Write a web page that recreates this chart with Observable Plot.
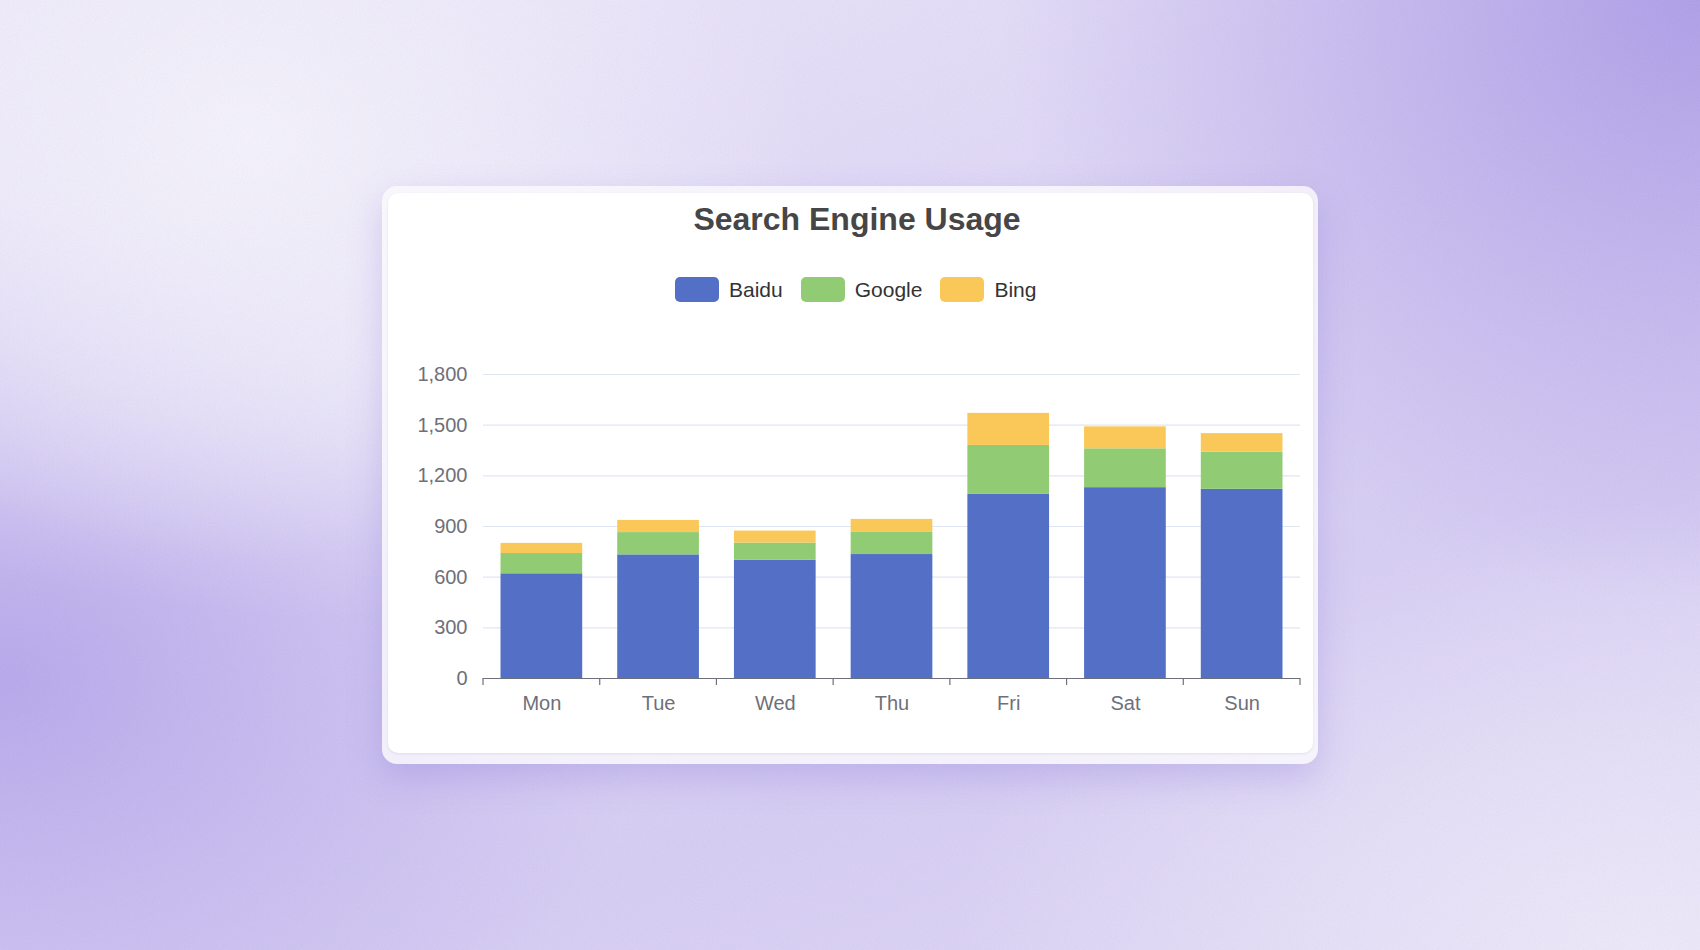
<!DOCTYPE html>
<html>
<head>
<meta charset="utf-8">
<script src="https://cdn.jsdelivr.net/npm/d3@7"></script>
<script src="https://cdn.jsdelivr.net/npm/@observablehq/plot@0.6"></script>
<style>
  html, body { margin: 0; padding: 0; }
  body {
    width: 1700px; height: 950px; position: relative; overflow: hidden;
    font-family: "Liberation Sans", Arial, Helvetica, sans-serif;
    background:
      radial-gradient(ellipse 560px 420px at 250px 140px, rgba(246,244,254,0.95), rgba(246,244,254,0) 100%),
      radial-gradient(ellipse 650px 260px at 380px 360px, rgba(240,236,252,0.6), rgba(240,236,252,0) 100%),
      radial-gradient(ellipse 700px 600px at 1700px 0px, rgba(172,154,232,0.95), rgba(172,154,232,0) 100%),
      radial-gradient(ellipse 650px 480px at 0px 680px, rgba(180,165,236,0.95), rgba(180,165,236,0) 100%),
      radial-gradient(ellipse 700px 450px at 1650px 950px, rgba(238,234,251,0.95), rgba(238,234,251,0) 100%),
      linear-gradient(160deg, #ece7fb 0%, #ddd5f7 45%, #d6cdf5 70%, #e0d9f7 100%);
  }
  #grain { position: absolute; left: 0; top: 0; width: 1700px; height: 950px; opacity: 0.12; pointer-events: none; }
  #cardOuter {
    position: absolute; left: 382px; top: 186px; width: 936px; height: 578px;
    border-radius: 15px; background: rgba(250,249,253,0.82);
    box-shadow: 0 14px 34px rgba(120,100,210,0.25);
  }
  #cardInner {
    position: absolute; left: 388px; top: 193px; width: 925px; height: 560px;
    border-radius: 10px; background: #ffffff;
    box-shadow: 0 1px 3px rgba(0,0,0,0.08);
  }
  #title {
    position: absolute; left: 657px; width: 400px; top: 203px; text-align: center;
    font-size: 32px; line-height: 32px; font-weight: bold; color: #464646;
  }
  #legend {
    position: absolute; left: 675px; top: 277px; height: 25px;
    display: flex; align-items: center; font-size: 21px; color: #333333;
  }
  .sw { width: 44px; height: 25px; border-radius: 5px; margin-right: 10px; }
  .lab { margin-right: 18px; line-height: 25px; }
  #chart { position: absolute; left: 388px; top: 330px; }
</style>
</head>
<body>
<svg id="grain" width="1700" height="950">
  <filter id="n"><feTurbulence type="fractalNoise" baseFrequency="0.9" numOctaves="2" stitchTiles="stitch"/><feColorMatrix type="saturate" values="0"/></filter>
  <rect width="1700" height="950" filter="url(#n)"/>
</svg>
<div id="cardOuter"></div>
<div id="cardInner"></div>
<div id="title">Search Engine Usage</div>
<div id="legend"></div>
<div id="chart"></div>
<script>
const days = ["Mon", "Tue", "Wed", "Thu", "Fri", "Sat", "Sun"];
const engines = ["Baidu", "Google", "Bing"];
const baidu = [620, 732, 701, 734, 1090, 1130, 1120];
const google = [120, 132, 101, 134, 290, 230, 220];
const bing = [60, 72, 71, 74, 190, 130, 110];
const colors = ["#5470c6", "#91cc75", "#fac858"];
const yTicks = [0, 300, 600, 900, 1200, 1500, 1800];

const series = [baidu, google, bing];
const data = [];
engines.forEach((e, j) => days.forEach((d, i) => data.push({day: d, engine: e, value: series[j][i]})));

// legend
const legend = document.getElementById("legend");
engines.forEach((e, j) => {
  const sw = document.createElement("div");
  sw.className = "sw"; sw.style.background = colors[j];
  const lab = document.createElement("div");
  lab.className = "lab"; lab.textContent = e;
  legend.appendChild(sw); legend.appendChild(lab);
});

// boundary ticks of the category axis (ECharts style), derived from the band scale range
function boundaryTicks(index, scales, values, dim) {
  const g = d3.create("svg:g");
  const x0 = dim.marginLeft, x1 = dim.width - dim.marginRight;
  const step = (x1 - x0) / days.length;
  const y = dim.height - dim.marginBottom;
  for (let k = 0; k <= days.length; k++) {
    g.append("line").attr("x1", x0 + k * step).attr("x2", x0 + k * step)
      .attr("y1", y).attr("y2", y + 7).attr("stroke", "#6e7079").attr("stroke-width", 1.2);
  }
  return g.node();
}

const plot = Plot.plot({
  width: 925,
  height: 423,
  marginLeft: 95,
  marginRight: 13,
  marginTop: 44,
  marginBottom: 75,
  style: {fontFamily: '"Liberation Sans", Arial, Helvetica, sans-serif', background: "transparent", overflow: "visible"},
  x: {domain: days, paddingInner: 0.30, paddingOuter: 0.15, align: 0.5, round: false, label: null},
  y: {domain: [0, 1800], label: null},
  color: {domain: engines, range: colors},
  marks: [
    Plot.gridY(yTicks, {stroke: "#e0e6f1", strokeOpacity: 1, strokeWidth: 1.2}),
    Plot.barY(data, Plot.stackY({x: "day", y: "value", fill: "engine", order: engines})),
    Plot.ruleY([0], {stroke: "#6e7079", strokeWidth: 1.2}),
    boundaryTicks,
    Plot.axisY({ticks: yTicks, tickSize: 0, tickPadding: 16, tickFormat: d3.format(","), fontSize: 20, fill: "#6e7079", label: null}),
    Plot.axisX({tickSize: 0, tickPadding: 17, fontSize: 20, fill: "#6e7079", label: null})
  ]
});
document.getElementById("chart").appendChild(plot);
</script>
</body>
</html>
